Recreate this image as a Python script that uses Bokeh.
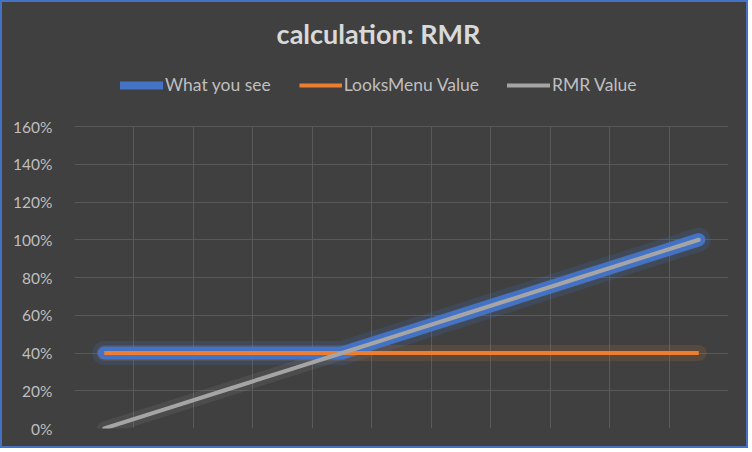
from bokeh.plotting import figure
from bokeh.models import (Range1d, FixedTicker, NumeralTickFormatter, Legend, LegendItem, Label, ColumnDataSource)
from bokeh.embed import file_html
from bokeh.resources import INLINE

categories = [1, 2, 3, 4, 5, 6, 7, 8, 9, 10, 11]
what_you_see = [0.40, 0.40, 0.40, 0.40, 0.40, 0.50, 0.60, 0.70, 0.80, 0.90, 1.00]
looksmenu_value = [0.40] * 11
rmr_value = [0.00, 0.10, 0.20, 0.30, 0.40, 0.50, 0.60, 0.70, 0.80, 0.90, 1.00]
y_ticks = [0.0, 0.2, 0.4, 0.6, 0.8, 1.0, 1.2, 1.4, 1.6]
x_bounds = [0.5, 1.5, 2.5, 3.5, 4.5, 5.5, 6.5, 7.5, 8.5, 9.5, 10.5, 11.5]

BG = "#404040"
GRID = "#595959"
TXT = "#bfbfbf"

# frame spans the full canvas height; the value axis occupies the lower 302 px
FRAME_H = 426
AXIS_H = 302
Y_TOP = 1.6 * FRAME_H / AXIS_H

src = ColumnDataSource(dict(x=categories, w=what_you_see, l=looksmenu_value, r=rmr_value))

p = figure(width=748, height=448, output_backend="svg", toolbar_location=None,
           x_range=Range1d(0.5, 11.5), y_range=Range1d(0, Y_TOP),
           min_border_left=72, min_border_right=22, min_border_top=0, min_border_bottom=22,
           background_fill_color=None, border_fill_color=None, outline_line_color=None)
p.styles = {"border": "2px solid #4472C4", "background-color": BG}

p.xaxis.visible = False
p.xgrid.ticker = FixedTicker(ticks=x_bounds)
p.xgrid.cross_bounds = (0, 1.6)
p.xgrid.grid_line_color = GRID
p.ygrid.ticker = FixedTicker(ticks=y_ticks)
p.ygrid.grid_line_color = GRID
p.yaxis.ticker = FixedTicker(ticks=y_ticks)
p.yaxis.formatter = NumeralTickFormatter(format="0%")
p.yaxis.axis_line_color = None
p.yaxis.major_tick_line_color = None
p.yaxis.minor_tick_line_color = None
p.yaxis.major_label_standoff = 16
p.yaxis.major_label_text_font = "Lato"
p.yaxis.major_label_text_font_size = "15.5px"
p.yaxis.major_label_text_color = TXT

# glow layers
p.line("x", "w", source=src, line_color="#4472c4", line_width=24, line_alpha=0.18, line_cap="round", line_join="round")
p.line("x", "l", source=src, line_color="#ed7d31", line_width=16, line_alpha=0.14, line_cap="round")
p.line("x", "r", source=src, line_color="#a5a5a5", line_width=14, line_alpha=0.12, line_cap="round")

p.line("x", "w", source=src, line_color="#4472c4", line_width=13, line_cap="round", line_join="round")
r_w = p.line("x", "w", source=src, line_color="#4472c4", line_width=8, line_cap="round", line_join="round")
r_l = p.line("x", "l", source=src, line_color="#ed7d31", line_width=4, line_cap="butt")
r_r = p.line("x", "r", source=src, line_color="#a5a5a5", line_width=4, line_cap="round")

legend = Legend(items=[LegendItem(label="What you see", renderers=[r_w]),
                       LegendItem(label="LooksMenu Value", renderers=[r_l]),
                       LegendItem(label="RMR Value", renderers=[r_r])],
                orientation="horizontal", location=(46, 333),
                glyph_width=43, glyph_height=20, label_standoff=2, spacing=28,
                padding=0, margin=0, border_line_color=None, background_fill_alpha=0,
                label_text_font="Lato", label_text_font_size="17.5px", label_text_color=TXT)
p.add_layout(legend, "center")

title = Label(x=304, y=FRAME_H - 31, x_units="screen", y_units="screen", text="calculation: RMR",
              text_font="Lato", text_font_style="bold", text_font_size="27px", text_color="#d9d9d9",
              text_align="center", text_baseline="middle")
p.add_layout(title)

open("out.html", "w").write(file_html(p, INLINE))
